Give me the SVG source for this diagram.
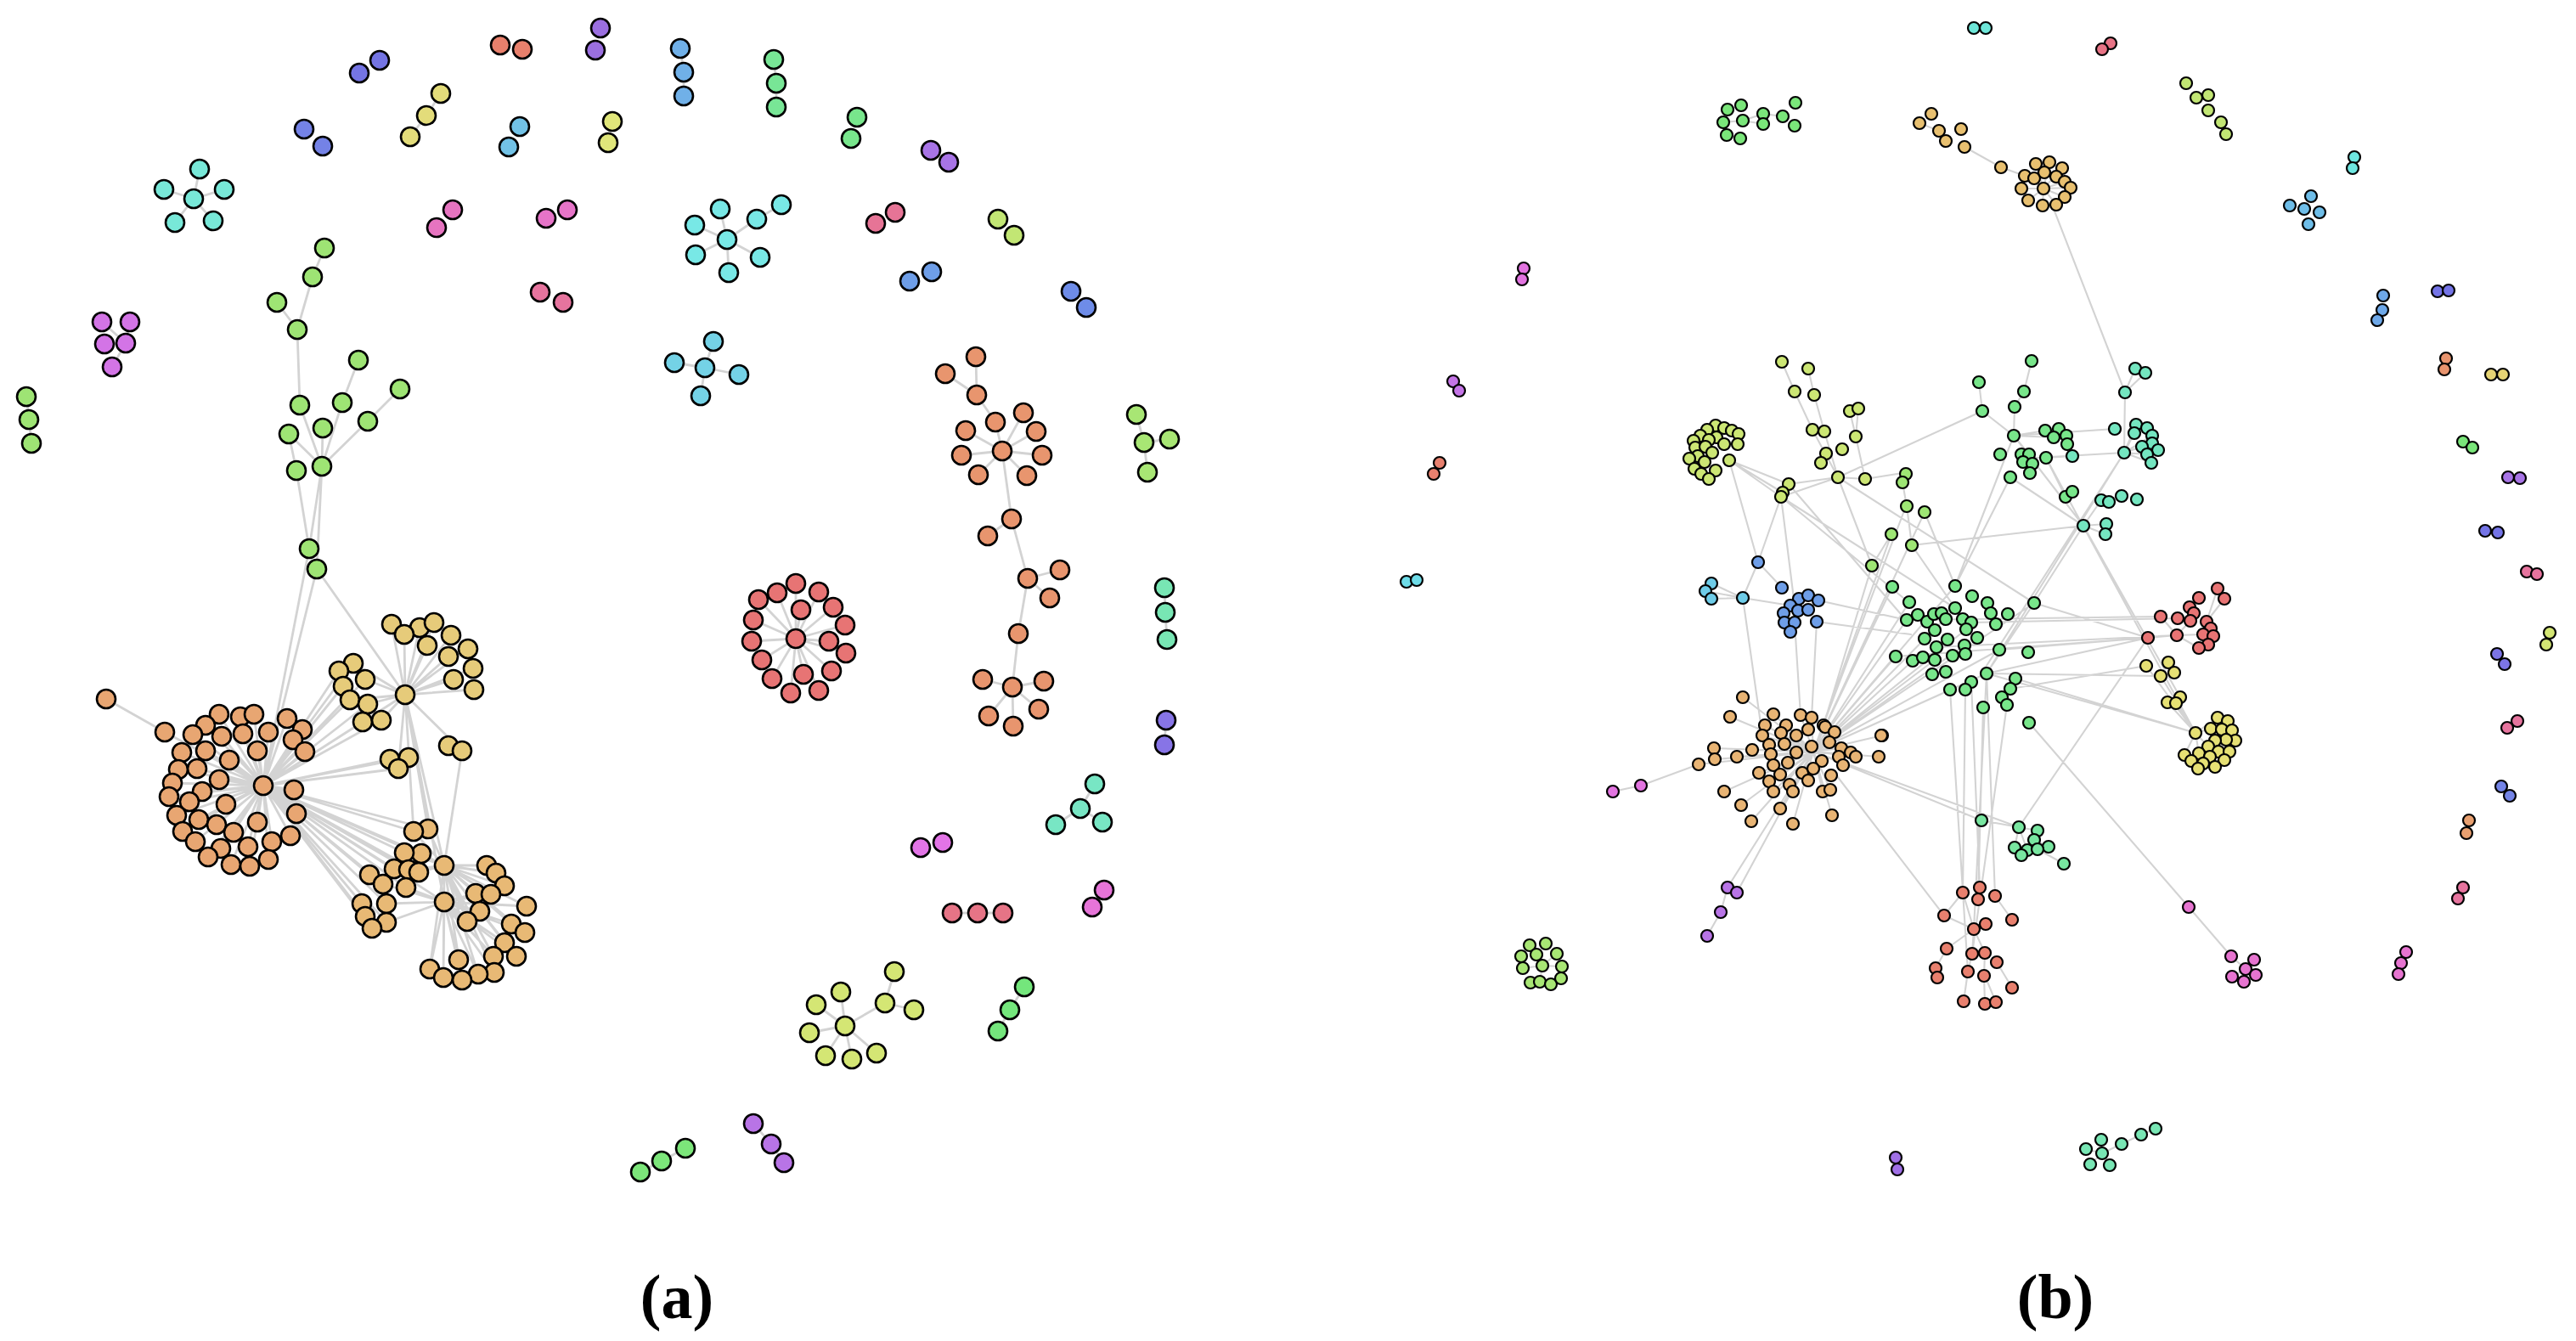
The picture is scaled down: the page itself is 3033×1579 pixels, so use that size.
<svg xmlns="http://www.w3.org/2000/svg" width="3033" height="1579" viewBox="0 0 3033 1579">
<style>
.na circle{r:11px;stroke:#000;stroke-width:2.6px}
.nb circle{r:7px;stroke:#000;stroke-width:2.2px}
.e{stroke:#d3d3d3;fill:none;stroke-linecap:round}
.ea{stroke-width:2.8px}
.eb{stroke-width:2.1px}
.lbl{font-family:"Liberation Serif",serif;font-size:74px;font-weight:bold;fill:#000;text-anchor:middle}
</style>
<rect width="3033" height="1579" fill="#fff"/>
<g id="connectors">
<path class="e ea" d="M228,234L235,199M228,234L193,223M228,234L264,223M228,234L206,262M228,234L251,260
M123,405L148,404M148,404L153,379M120,379L148,404M148,404L132,432
M382,292L368,326M368,326L350,388M326,356L350,388M350,388L353,477M422,424L403,474M471,458L433,496M379,549L353,477M379,549L403,474M379,549L380,504M379,549L433,496M379,549L340,511M340,511L349,554M349,554L364,646M379,549L364,646M379,549L373,670M364,646L310,925M373,670L310,925M373,670L477,818
M31,467L34,494L37,522M483,161L502,136L519,110M801,57L805,85L805,113M911,70L914,98L914,126
M856,282L848,246M856,282L818,265M856,282L891,258M856,282L819,300M856,282L895,303M856,282L858,321M891,258L920,241
M830,433L840,402M830,433L794,427M830,433L870,441M830,433L825,466
M1149,420L1150,465M1113,440L1150,465M1150,465L1172,497L1180,531M1180,531L1205,486M1180,531L1137,507M1180,531L1220,508M1180,531L1132,536M1180,531L1227,536M1180,531L1152,559M1180,531L1209,560M1180,531L1191,611M1191,611L1163,631M1191,611L1210,681M1210,681L1248,671M1210,681L1236,704M1210,681L1199,746L1192,809M1192,809L1157,800M1192,809L1229,802M1192,809L1164,843M1192,809L1193,855M1192,809L1223,835
M1347,521L1338,488M1347,521L1377,517M1347,521L1351,556M1371,692L1372,721L1374,753M1373,848L1371,877
M1272,952L1289,923M1272,952L1243,971M1272,952L1298,968
M937,752L937,687M937,752L915,698M937,752L964,697M937,752L893,706M937,752L943,718M937,752L981,715M937,752L887,730M937,752L995,736M937,752L885,755M937,752L976,755M937,752L996,769M937,752L897,777M937,752L979,790M937,752L946,794M937,752L909,799M937,752L931,816M937,752L964,813
M995,1208L990,1168M995,1208L961,1183M995,1208L953,1216M995,1208L972,1243M995,1208L1003,1247M995,1208L1032,1240M995,1208L1042,1181M1042,1181L1053,1144M1042,1181L1076,1189
M1121,1075L1181,1075M1206,1162L1189,1189L1175,1214M754,1380L779,1367L807,1352M887,1323L908,1347L923,1369
M125,823L194,862L310,925
M310,925L258,841M310,925L283,844M310,925L299,841M310,925L242,854M310,925L227,865M310,925L261,867M310,925L286,864M310,925L316,862M310,925L338,846M310,925L356,859M310,925L345,871M310,925L359,885M310,925L303,884M310,925L214,886M310,925L242,884M310,925L270,895M310,925L210,906M310,925L232,905M310,925L203,922M310,925L258,918M310,925L346,930M310,925L199,938M310,925L238,932M310,925L223,944M310,925L266,947M310,925L349,958M310,925L208,960M310,925L234,965M310,925L255,971M310,925L303,968M310,925L275,980M310,925L215,979M310,925L342,984M310,925L230,991M310,925L320,991M310,925L260,999M310,925L292,997M310,925L245,1009M310,925L316,1012M310,925L272,1018M310,925L294,1020
M310,925L416,781M310,925L399,790M310,925L430,800M310,925L404,808M310,925L412,824M310,925L433,829M310,925L427,850M310,925L449,848M310,925L459,894M310,925L481,892M310,925L469,905M310,925L487,979M310,925L504,976M310,925L476,1004M310,925L496,1005M310,925L464,1023M310,925L481,1024M310,925L493,1027M310,925L478,1045M310,925L435,1030M310,925L451,1041M310,925L426,1064M310,925L455,1064M310,925L430,1079M310,925L455,1086M310,925L438,1093M310,925L523,1019M310,925L523,1062M310,925L477,818
M477,818L461,735M477,818L476,747M477,818L494,739M477,818L511,733M477,818L531,748M477,818L503,760M477,818L551,764M477,818L528,773M477,818L557,787M477,818L534,800M477,818L558,812M477,818L416,781M477,818L430,800M477,818L412,824M477,818L433,829M477,818L449,848M477,818L544,884M477,818L523,1019M477,818L523,1062M477,818L487,979M477,818L504,976M477,818L469,905M544,884L523,1019
M523,1019L573,1019M523,1019L584,1028M523,1019L594,1043M523,1019L560,1052M523,1019L578,1053M523,1019L620,1067M523,1019L565,1073M523,1019L550,1085M523,1019L602,1088M523,1019L618,1098M523,1019L594,1110M523,1019L581,1126M523,1019L608,1126M523,1019L540,1130M523,1019L506,1141M523,1019L522,1151M523,1019L544,1154M523,1019L563,1147M523,1019L582,1145M523,1019L487,979M523,1019L504,976M523,1019L476,1004M523,1019L496,1005M523,1019L481,1024M523,1019L493,1027
M523,1062L560,1052M523,1062L578,1053M523,1062L620,1067M523,1062L565,1073M523,1062L550,1085M523,1062L602,1088M523,1062L618,1098M523,1062L594,1110M523,1062L581,1126M523,1062L608,1126M523,1062L540,1130M523,1062L506,1141M523,1062L522,1151M523,1062L544,1154M523,1062L563,1147M523,1062L582,1145M523,1062L455,1064M523,1062L455,1086M523,1062L478,1045M523,1062L451,1041"/>
<path class="e eb" d="M2029,144L2052,142L2076,134M2052,142L2076,146M2029,144L2033,159M2076,134L2099,137
M2260,145L2283,154L2291,166M2313,173L2356,197L2384,207M2406,222L2397,193M2406,222L2413,191M2406,222L2428,198M2406,222L2384,207M2406,222L2431,214M2406,222L2438,221M2406,222L2380,222M2406,222L2431,232M2406,222L2388,236M2406,222L2405,242M2406,222L2421,241M2418,246L2502,462
M2502,462L2514,434M2502,462L2526,439M2502,462L2501,533M2501,533L2515,500M2501,533L2513,510M2501,533L2522,526M2501,533L2528,535M2501,533L2533,545M2501,533L2534,513M2490,505L2371,513M2501,533L2380,540M2453,619L2474,589M2453,619L2479,629M2453,619L2480,617M2453,619L2371,513M2453,619L2367,562M2453,619L2251,642M2453,619L2567,821M2453,619L2395,710L2339,793M2501,533L2339,793M2501,533L2335,790M2474,589L2498,584
M2392,425L2383,461L2372,479L2371,513M2330,450L2334,484L2371,513M2371,513L2408,507M2371,513L2418,515M2371,513L2389,535M2371,513L2302,690M2367,562L2302,690M2334,484L2164,562M2409,539L2440,537M2432,585L2409,539M2409,539L2585,863M2367,562L2453,619
M2245,596L2240,568M2245,596L2251,642M2266,603L2302,690M2227,629L2204,666M2251,642L2302,716
M2098,426L2113,461L2134,506L2164,562M2129,434L2136,465L2148,508L2164,562M2188,481L2185,514L2196,564M2178,484L2185,514M2164,562L2196,564M2196,564L2240,557M2164,562L2106,570M2164,562L2097,585M2036,542L2097,585M2036,542L2106,570M2036,542L2099,580M2036,542L2070,662M2097,585L2070,662M2097,585L2112,705M2164,562L2204,666M2164,562L2395,710M2097,585L2247,709M2097,585L2302,716M2106,570L2244,730
M2070,662L2098,692M2052,704L2070,662M2052,704L2015,687M2052,704L2008,696M2052,704L2015,705M2052,704L2108,713M2052,704L2075,866M2113,733L2120,842M2139,732L2133,845M2141,707L2245,730M2139,732L2250,747M2204,666L2147,854
M2135,885L2052,821M2135,885L2037,844M2135,885L2088,841M2135,885L2078,854M2135,885L2103,854M2135,885L2120,842M2135,885L2133,845M2135,885L2147,854M2135,885L2160,862M2135,885L2097,863M2135,885L2075,866M2135,885L2083,877M2135,885L2168,881M2135,885L2185,891M2135,885L2216,866M2135,885L2212,891M2135,885L2018,881M2135,885L2019,894M2135,885L2045,891M2135,885L2063,883M2135,885L2000,900M2135,885L2071,910M2135,885L2083,920M2135,885L2030,932M2135,885L2088,932M2135,885L2111,932M2135,885L2146,932M2135,885L2155,930M2135,885L2050,948M2135,885L2096,952M2135,885L2062,967M2135,885L2111,970M2135,885L2157,960M2000,900L1932,925L1899,932M2135,885L2034,1045M2135,885L2045,1051M2034,1045L2026,1074L2010,1102
M2135,885L2228,691M2135,885L2248,709M2135,885L2245,730M2135,885L2232,773M2135,885L2252,778M2135,885L2278,777M2135,885L2302,716M2135,885L2315,741M2135,885L2339,793M2135,885L2302,690M2135,885L2395,710M2135,885L2354,765M2135,885L2313,760M2135,885L2244,596M2135,885L2227,629M2135,885L2266,603M2135,885L2333,966M2333,966L2377,974M2135,885L2377,974M2160,910L2289,1078
M1801,1113L1816,1137M1833,1123L1816,1137M1793,1140L1816,1137M1839,1138L1816,1137M1813,1156L1816,1137
M2339,793L2529,751M2339,793L2544,796M2339,793L2585,863M2373,799L2585,863M2245,730L2544,726M2232,773L2529,751M2280,762L2563,748M2395,710L2529,751M2321,733L2563,728M2354,765L2529,751M2367,811L2527,784M2529,751L2377,974
M2321,803L2331,1045M2314,812L2311,1051M2335,833L2329,1059M2339,793L2324,1094M2296,812L2317,1144M2339,793L2349,1055M2363,830L2322,1123
M2324,1094L2289,1078M2324,1094L2292,1117M2324,1094L2311,1051M2324,1094L2338,1088M2324,1094L2322,1123M2324,1094L2337,1122M2311,1051L2289,1078M2292,1117L2279,1140L2281,1151M2322,1123L2317,1144L2312,1179M2337,1122L2336,1149L2337,1182M2351,1133L2369,1163M2349,1055L2369,1083M2337,1149L2350,1180
M2389,851L2577,1068L2627,1126M2627,1126L2644,1141M2654,1130L2644,1141M2628,1150L2644,1141M2656,1148L2644,1141M2642,1156L2644,1141
M2377,974L2399,978M2377,974L2372,998M2377,974L2387,1001M2395,989L2412,997M2399,1000L2430,1017
M2563,748L2529,751M2563,748L2544,726M2563,748L2594,747M2563,748L2579,731M2563,748L2589,763M2598,732L2611,693M2598,732L2619,705M2589,704L2578,715
M2585,863L2552,827M2585,863L2562,828M2585,863L2544,796M2585,863L2527,784M2585,863L2611,845M2585,863L2603,858M2585,863L2600,879M2585,863L2572,889M2585,863L2589,887M2553,780L2544,796
M1711,449L1718,460M1695,545L1688,558M1656,685L1668,683M2456,1353L2475,1358M2475,1358L2498,1347L2521,1336L2538,1329M2475,1358L2461,1371M2475,1358L2484,1372M2474,1342L2475,1358"/>
</g>
<g id="panel-a-nodes" class="na">
<g id="a-orange" fill="#e8a672"><circle id="a1" cx="125" cy="823"/><circle id="a2" cx="194" cy="862"/><circle id="a3" cx="258" cy="841"/><circle id="a4" cx="283" cy="844"/><circle id="a5" cx="299" cy="841"/><circle id="a6" cx="242" cy="854"/><circle id="a7" cx="227" cy="865"/><circle id="a8" cx="261" cy="867"/><circle id="a9" cx="286" cy="864"/><circle id="a10" cx="316" cy="862"/><circle id="a11" cx="338" cy="846"/><circle id="a12" cx="356" cy="859"/><circle id="a13" cx="345" cy="871"/><circle id="a14" cx="359" cy="885"/><circle id="a15" cx="303" cy="884"/><circle id="a16" cx="214" cy="886"/><circle id="a17" cx="242" cy="884"/><circle id="a18" cx="270" cy="895"/><circle id="a19" cx="210" cy="906"/><circle id="a20" cx="232" cy="905"/><circle id="a21" cx="203" cy="922"/><circle id="a22" cx="258" cy="918"/><circle id="a23" cx="310" cy="925"/><circle id="a24" cx="346" cy="930"/><circle id="a25" cx="199" cy="938"/><circle id="a26" cx="238" cy="932"/><circle id="a27" cx="223" cy="944"/><circle id="a28" cx="266" cy="947"/><circle id="a29" cx="349" cy="958"/><circle id="a30" cx="208" cy="960"/><circle id="a31" cx="234" cy="965"/><circle id="a32" cx="255" cy="971"/><circle id="a33" cx="303" cy="968"/><circle id="a34" cx="275" cy="980"/><circle id="a35" cx="215" cy="979"/><circle id="a36" cx="342" cy="984"/><circle id="a37" cx="230" cy="991"/><circle id="a38" cx="320" cy="991"/><circle id="a39" cx="260" cy="999"/><circle id="a40" cx="292" cy="997"/><circle id="a41" cx="245" cy="1009"/><circle id="a42" cx="316" cy="1012"/><circle id="a43" cx="272" cy="1018"/><circle id="a44" cx="294" cy="1020"/></g>
<g id="a-yellow-orange" fill="#e6cb7a"><circle id="a45" cx="461" cy="735"/><circle id="a46" cx="494" cy="739"/><circle id="a47" cx="476" cy="747"/><circle id="a48" cx="511" cy="733"/><circle id="a49" cx="531" cy="748"/><circle id="a50" cx="503" cy="760"/><circle id="a51" cx="551" cy="764"/><circle id="a52" cx="528" cy="773"/><circle id="a53" cx="557" cy="787"/><circle id="a54" cx="534" cy="800"/><circle id="a55" cx="558" cy="812"/><circle id="a56" cx="477" cy="818"/><circle id="a57" cx="416" cy="781"/><circle id="a58" cx="399" cy="790"/><circle id="a59" cx="430" cy="800"/><circle id="a60" cx="404" cy="808"/><circle id="a61" cx="412" cy="824"/><circle id="a62" cx="433" cy="829"/><circle id="a63" cx="427" cy="850"/><circle id="a64" cx="449" cy="848"/><circle id="a65" cx="528" cy="878"/><circle id="a66" cx="544" cy="884"/><circle id="a67" cx="459" cy="894"/><circle id="a68" cx="481" cy="892"/><circle id="a69" cx="469" cy="905"/></g>
<g id="a-yellow-orange-2" fill="#e8b975"><circle id="a70" cx="504" cy="976"/><circle id="a71" cx="487" cy="979"/><circle id="a72" cx="496" cy="1005"/><circle id="a73" cx="476" cy="1004"/><circle id="a74" cx="464" cy="1023"/><circle id="a75" cx="481" cy="1024"/><circle id="a76" cx="493" cy="1027"/><circle id="a77" cx="478" cy="1045"/><circle id="a78" cx="435" cy="1030"/><circle id="a79" cx="451" cy="1041"/><circle id="a80" cx="426" cy="1064"/><circle id="a81" cx="455" cy="1064"/><circle id="a82" cx="430" cy="1079"/><circle id="a83" cx="455" cy="1086"/><circle id="a84" cx="438" cy="1093"/><circle id="a85" cx="523" cy="1019"/><circle id="a86" cx="523" cy="1062"/><circle id="a87" cx="573" cy="1019"/><circle id="a88" cx="584" cy="1028"/><circle id="a89" cx="594" cy="1043"/><circle id="a90" cx="560" cy="1052"/><circle id="a91" cx="578" cy="1053"/><circle id="a92" cx="620" cy="1067"/><circle id="a93" cx="565" cy="1073"/><circle id="a94" cx="550" cy="1085"/><circle id="a95" cx="602" cy="1088"/><circle id="a96" cx="618" cy="1098"/><circle id="a97" cx="594" cy="1110"/><circle id="a98" cx="581" cy="1126"/><circle id="a99" cx="608" cy="1126"/><circle id="a100" cx="540" cy="1130"/><circle id="a101" cx="506" cy="1141"/><circle id="a102" cx="582" cy="1145"/><circle id="a103" cx="563" cy="1147"/><circle id="a104" cx="522" cy="1151"/><circle id="a105" cx="544" cy="1154"/></g>
<g id="a-green-tree" fill="#9ee474"><circle id="a106" cx="382" cy="292"/><circle id="a107" cx="368" cy="326"/><circle id="a108" cx="326" cy="356"/><circle id="a109" cx="350" cy="388"/><circle id="a110" cx="422" cy="424"/><circle id="a111" cx="471" cy="458"/><circle id="a112" cx="353" cy="477"/><circle id="a113" cx="403" cy="474"/><circle id="a114" cx="340" cy="511"/><circle id="a115" cx="380" cy="504"/><circle id="a116" cx="433" cy="496"/><circle id="a117" cx="349" cy="554"/><circle id="a118" cx="379" cy="549"/><circle id="a119" cx="364" cy="646"/><circle id="a120" cx="373" cy="670"/><circle id="a121" cx="31" cy="467"/><circle id="a122" cx="34" cy="494"/><circle id="a123" cx="37" cy="522"/></g>
<g id="a-cyan-star" fill="#78e8d8"><circle id="a124" cx="228" cy="234"/><circle id="a125" cx="235" cy="199"/><circle id="a126" cx="193" cy="223"/><circle id="a127" cx="264" cy="223"/><circle id="a128" cx="206" cy="262"/><circle id="a129" cx="251" cy="260"/></g>
<g id="a-magenta" fill="#d374e6"><circle id="a130" cx="120" cy="379"/><circle id="a131" cx="153" cy="379"/><circle id="a132" cx="123" cy="405"/><circle id="a133" cx="148" cy="404"/><circle id="a134" cx="132" cy="432"/></g>
<g id="a-pairs"><circle id="a135" cx="589" cy="53" fill="#e8806c"/><circle id="a136" cx="615" cy="58" fill="#e8806c"/><circle id="a137" cx="707" cy="33" fill="#9b6fe0"/><circle id="a138" cx="701" cy="59" fill="#9b6fe0"/><circle id="a139" cx="447" cy="71" fill="#7474e3"/><circle id="a140" cx="423" cy="86" fill="#7474e3"/><circle id="a141" cx="358" cy="152" fill="#7482e6"/><circle id="a142" cx="380" cy="172" fill="#7482e6"/><circle id="a143" cx="519" cy="110" fill="#e3dc7a"/><circle id="a144" cx="502" cy="136" fill="#e3dc7a"/><circle id="a145" cx="483" cy="161" fill="#e3dc7a"/><circle id="a146" cx="612" cy="149" fill="#72c2e6"/><circle id="a147" cx="599" cy="173" fill="#72c2e6"/><circle id="a148" cx="721" cy="143" fill="#e0e67a"/><circle id="a149" cx="716" cy="168" fill="#e0e67a"/><circle id="a150" cx="533" cy="247" fill="#e674c0"/><circle id="a151" cx="514" cy="268" fill="#e674c0"/><circle id="a152" cx="668" cy="247" fill="#e674c8"/><circle id="a153" cx="643" cy="257" fill="#e674c8"/><circle id="a154" cx="636" cy="344" fill="#e6749e"/><circle id="a155" cx="663" cy="356" fill="#e6749e"/><circle id="a156" cx="801" cy="57" fill="#70b0e8"/><circle id="a157" cx="805" cy="85" fill="#70b0e8"/><circle id="a158" cx="805" cy="113" fill="#70b0e8"/><circle id="a159" cx="911" cy="70" fill="#78e696"/><circle id="a160" cx="914" cy="98" fill="#78e696"/><circle id="a161" cx="914" cy="126" fill="#78e696"/><circle id="a162" cx="1009" cy="138" fill="#78e68c"/><circle id="a163" cx="1002" cy="163" fill="#78e68c"/><circle id="a164" cx="1096" cy="177" fill="#a874e6"/><circle id="a165" cx="1117" cy="191" fill="#a874e6"/><circle id="a166" cx="1054" cy="250" fill="#e67496"/><circle id="a167" cx="1031" cy="263" fill="#e67496"/><circle id="a168" cx="1175" cy="258" fill="#c2e674"/><circle id="a169" cx="1194" cy="277" fill="#c2e674"/><circle id="a170" cx="1097" cy="320" fill="#6e9ee8"/><circle id="a171" cx="1071" cy="331" fill="#6e9ee8"/><circle id="a172" cx="1261" cy="343" fill="#6e8ce8"/><circle id="a173" cx="1279" cy="362" fill="#6e8ce8"/><circle id="a174" cx="1371" cy="692" fill="#78e6b4"/><circle id="a175" cx="1372" cy="721" fill="#78e6b4"/><circle id="a176" cx="1374" cy="753" fill="#78e6b4"/><circle id="a177" cx="1373" cy="848" fill="#8774e6"/><circle id="a178" cx="1371" cy="877" fill="#8774e6"/><circle id="a179" cx="1084" cy="998" fill="#e274e6"/><circle id="a180" cx="1110" cy="992" fill="#e274e6"/><circle id="a181" cx="1121" cy="1075" fill="#e67486"/><circle id="a182" cx="1151" cy="1075" fill="#e67486"/><circle id="a183" cx="1181" cy="1075" fill="#e67486"/><circle id="a184" cx="1300" cy="1048" fill="#e674d8"/><circle id="a185" cx="1286" cy="1068" fill="#e674d8"/><circle id="a186" cx="1206" cy="1162" fill="#74e67c"/><circle id="a187" cx="1189" cy="1189" fill="#74e67c"/><circle id="a188" cx="1175" cy="1214" fill="#74e67c"/><circle id="a189" cx="754" cy="1380" fill="#7ce67a"/><circle id="a190" cx="779" cy="1367" fill="#7ce67a"/><circle id="a191" cx="807" cy="1352" fill="#7ce67a"/><circle id="a192" cx="887" cy="1323" fill="#b874e6"/><circle id="a193" cx="908" cy="1347" fill="#b874e6"/><circle id="a194" cx="923" cy="1369" fill="#b874e6"/></g>
<g id="a-cyan-star-2" fill="#78e8e6"><circle id="a195" cx="856" cy="282"/><circle id="a196" cx="848" cy="246"/><circle id="a197" cx="818" cy="265"/><circle id="a198" cx="891" cy="258"/><circle id="a199" cx="920" cy="241"/><circle id="a200" cx="819" cy="300"/><circle id="a201" cx="895" cy="303"/><circle id="a202" cx="858" cy="321"/></g>
<g id="a-lightblue-star" fill="#74d2e6"><circle id="a203" cx="830" cy="433"/><circle id="a204" cx="840" cy="402"/><circle id="a205" cx="794" cy="427"/><circle id="a206" cx="870" cy="441"/><circle id="a207" cx="825" cy="466"/></g>
<g id="a-salmon-tree" fill="#e8956e"><circle id="a208" cx="1149" cy="420"/><circle id="a209" cx="1113" cy="440"/><circle id="a210" cx="1150" cy="465"/><circle id="a211" cx="1172" cy="497"/><circle id="a212" cx="1205" cy="486"/><circle id="a213" cx="1137" cy="507"/><circle id="a214" cx="1220" cy="508"/><circle id="a215" cx="1180" cy="531"/><circle id="a216" cx="1132" cy="536"/><circle id="a217" cx="1227" cy="536"/><circle id="a218" cx="1152" cy="559"/><circle id="a219" cx="1209" cy="560"/><circle id="a220" cx="1191" cy="611"/><circle id="a221" cx="1163" cy="631"/><circle id="a222" cx="1210" cy="681"/><circle id="a223" cx="1248" cy="671"/><circle id="a224" cx="1236" cy="704"/><circle id="a225" cx="1199" cy="746"/><circle id="a226" cx="1192" cy="809"/><circle id="a227" cx="1157" cy="800"/><circle id="a228" cx="1229" cy="802"/><circle id="a229" cx="1164" cy="843"/><circle id="a230" cx="1193" cy="855"/><circle id="a231" cx="1223" cy="835"/></g>
<g id="a-green-right" fill="#a8e674"><circle id="a232" cx="1338" cy="488"/><circle id="a233" cx="1347" cy="521"/><circle id="a234" cx="1377" cy="517"/><circle id="a235" cx="1351" cy="556"/></g>
<g id="a-teal" fill="#78e6c4"><circle id="a236" cx="1289" cy="923"/><circle id="a237" cx="1272" cy="952"/><circle id="a238" cx="1243" cy="971"/><circle id="a239" cx="1298" cy="968"/></g>
<g id="a-red-star" fill="#e77474"><circle id="a240" cx="937" cy="752"/><circle id="a241" cx="937" cy="687"/><circle id="a242" cx="915" cy="698"/><circle id="a243" cx="964" cy="697"/><circle id="a244" cx="893" cy="706"/><circle id="a245" cx="943" cy="718"/><circle id="a246" cx="981" cy="715"/><circle id="a247" cx="887" cy="730"/><circle id="a248" cx="995" cy="736"/><circle id="a249" cx="885" cy="755"/><circle id="a250" cx="976" cy="755"/><circle id="a251" cx="996" cy="769"/><circle id="a252" cx="897" cy="777"/><circle id="a253" cx="979" cy="790"/><circle id="a254" cx="946" cy="794"/><circle id="a255" cx="909" cy="799"/><circle id="a256" cx="931" cy="816"/><circle id="a257" cx="964" cy="813"/></g>
<g id="a-yg-star" fill="#d4e674"><circle id="a258" cx="995" cy="1208"/><circle id="a259" cx="990" cy="1168"/><circle id="a260" cx="961" cy="1183"/><circle id="a261" cx="953" cy="1216"/><circle id="a262" cx="972" cy="1243"/><circle id="a263" cx="1003" cy="1247"/><circle id="a264" cx="1032" cy="1240"/><circle id="a265" cx="1042" cy="1181"/><circle id="a266" cx="1053" cy="1144"/><circle id="a267" cx="1076" cy="1189"/></g>
</g>
<g id="panel-b-nodes" class="nb">
<g id="b-small"><circle id="b1" cx="2324" cy="33" fill="#6ee6d8"/><circle id="b2" cx="2338" cy="33" fill="#6ee6d8"/><circle id="b3" cx="1794" cy="316" fill="#e274e0"/><circle id="b4" cx="1792" cy="329" fill="#e274e0"/><circle id="b5" cx="1711" cy="449" fill="#c474e6"/><circle id="b6" cx="1718" cy="460" fill="#c474e6"/><circle id="b7" cx="1695" cy="545" fill="#e8806e"/><circle id="b8" cx="1688" cy="558" fill="#e8806e"/><circle id="b9" cx="1656" cy="685" fill="#6edce8"/><circle id="b10" cx="1668" cy="683" fill="#6edce8"/><circle id="b11" cx="2485" cy="51" fill="#e87486"/><circle id="b12" cx="2475" cy="58" fill="#e87486"/><circle id="b13" cx="2574" cy="98" fill="#c2e674"/><circle id="b14" cx="2586" cy="115" fill="#c2e674"/><circle id="b15" cx="2600" cy="112" fill="#c2e674"/><circle id="b16" cx="2600" cy="130" fill="#c2e674"/><circle id="b17" cx="2615" cy="144" fill="#c2e674"/><circle id="b18" cx="2621" cy="158" fill="#c2e674"/><circle id="b19" cx="2772" cy="185" fill="#6ee6e0"/><circle id="b20" cx="2770" cy="198" fill="#6ee6e0"/><circle id="b21" cx="2721" cy="231" fill="#6ebde8"/><circle id="b22" cx="2696" cy="242" fill="#6ebde8"/><circle id="b23" cx="2713" cy="246" fill="#6ebde8"/><circle id="b24" cx="2731" cy="250" fill="#6ebde8"/><circle id="b25" cx="2718" cy="264" fill="#6ebde8"/><circle id="b26" cx="2806" cy="348" fill="#6ea8e8"/><circle id="b27" cx="2805" cy="365" fill="#6ea8e8"/><circle id="b28" cx="2799" cy="377" fill="#6ea8e8"/><circle id="b29" cx="2870" cy="343" fill="#7474e6"/><circle id="b30" cx="2883" cy="342" fill="#7474e6"/><circle id="b31" cx="2880" cy="422" fill="#e8946e"/><circle id="b32" cx="2878" cy="435" fill="#e8946e"/><circle id="b33" cx="2933" cy="441" fill="#e6d474"/><circle id="b34" cx="2947" cy="441" fill="#e6d474"/><circle id="b35" cx="2900" cy="520" fill="#7ae67a"/><circle id="b36" cx="2911" cy="527" fill="#7ae67a"/><circle id="b37" cx="2953" cy="562" fill="#a874e6"/><circle id="b38" cx="2967" cy="563" fill="#a874e6"/><circle id="b39" cx="2926" cy="625" fill="#7474e6"/><circle id="b40" cx="2941" cy="627" fill="#7474e6"/><circle id="b41" cx="2975" cy="673" fill="#e6749e"/><circle id="b42" cx="2987" cy="676" fill="#e6749e"/><circle id="b43" cx="3002" cy="745" fill="#d4e674"/><circle id="b44" cx="2998" cy="759" fill="#d4e674"/><circle id="b45" cx="2940" cy="770" fill="#7c74e6"/><circle id="b46" cx="2949" cy="782" fill="#7c74e6"/><circle id="b47" cx="2964" cy="849" fill="#e6749e"/><circle id="b48" cx="2952" cy="857" fill="#e6749e"/><circle id="b49" cx="2945" cy="926" fill="#7484e6"/><circle id="b50" cx="2955" cy="937" fill="#7484e6"/><circle id="b51" cx="2907" cy="966" fill="#e8a070"/><circle id="b52" cx="2904" cy="981" fill="#e8a070"/><circle id="b53" cx="2900" cy="1045" fill="#e6749e"/><circle id="b54" cx="2894" cy="1058" fill="#e6749e"/><circle id="b55" cx="2833" cy="1121" fill="#e674d0"/><circle id="b56" cx="2827" cy="1134" fill="#e674d0"/><circle id="b57" cx="2824" cy="1147" fill="#e674d0"/><circle id="b58" cx="2232" cy="1363" fill="#a070e6"/><circle id="b59" cx="2234" cy="1377" fill="#a070e6"/><circle id="b60" cx="1899" cy="932" fill="#e274e0"/><circle id="b61" cx="1932" cy="925" fill="#e274e0"/></g>
<g id="b-mint" fill="#78e6b4"><circle id="b62" cx="2456" cy="1353"/><circle id="b63" cx="2474" cy="1342"/><circle id="b64" cx="2475" cy="1358"/><circle id="b65" cx="2461" cy="1371"/><circle id="b66" cx="2484" cy="1372"/><circle id="b67" cx="2498" cy="1347"/><circle id="b68" cx="2521" cy="1336"/><circle id="b69" cx="2538" cy="1329"/></g>
<g id="b-green-top" fill="#7ae67a"><circle id="b70" cx="2034" cy="129"/><circle id="b71" cx="2050" cy="124"/><circle id="b72" cx="2029" cy="144"/><circle id="b73" cx="2052" cy="142"/><circle id="b74" cx="2076" cy="134"/><circle id="b75" cx="2076" cy="146"/><circle id="b76" cx="2033" cy="159"/><circle id="b77" cx="2049" cy="163"/><circle id="b78" cx="2099" cy="137"/><circle id="b79" cx="2114" cy="121"/><circle id="b80" cx="2113" cy="148"/></g>
<g id="b-orange-top" fill="#e8c070"><circle id="b81" cx="2274" cy="134"/><circle id="b82" cx="2260" cy="145"/><circle id="b83" cx="2283" cy="154"/><circle id="b84" cx="2291" cy="166"/><circle id="b85" cx="2309" cy="152"/><circle id="b86" cx="2313" cy="173"/><circle id="b87" cx="2356" cy="197"/><circle id="b88" cx="2397" cy="193"/><circle id="b89" cx="2413" cy="191"/><circle id="b90" cx="2428" cy="198"/><circle id="b91" cx="2384" cy="207"/><circle id="b92" cx="2395" cy="210"/><circle id="b93" cx="2407" cy="203"/><circle id="b94" cx="2421" cy="208"/><circle id="b95" cx="2431" cy="214"/><circle id="b96" cx="2438" cy="221"/><circle id="b97" cx="2380" cy="222"/><circle id="b98" cx="2406" cy="222"/><circle id="b99" cx="2431" cy="232"/><circle id="b100" cx="2388" cy="236"/><circle id="b101" cx="2405" cy="242"/><circle id="b102" cx="2421" cy="241"/></g>
<g id="b-yg" fill="#cce674"><circle id="b103" cx="2020" cy="501"/><circle id="b104" cx="2010" cy="506"/><circle id="b105" cx="2030" cy="504"/><circle id="b106" cx="2039" cy="507"/><circle id="b107" cx="2047" cy="511"/><circle id="b108" cx="2002" cy="513"/><circle id="b109" cx="1994" cy="519"/><circle id="b110" cx="2021" cy="515"/><circle id="b111" cx="2012" cy="518"/><circle id="b112" cx="2030" cy="523"/><circle id="b113" cx="2046" cy="523"/><circle id="b114" cx="1996" cy="527"/><circle id="b115" cx="2008" cy="526"/><circle id="b116" cx="2016" cy="533"/><circle id="b117" cx="1999" cy="537"/><circle id="b118" cx="1989" cy="540"/><circle id="b119" cx="2007" cy="544"/><circle id="b120" cx="2036" cy="542"/><circle id="b121" cx="1995" cy="552"/><circle id="b122" cx="2020" cy="554"/><circle id="b123" cx="2003" cy="558"/><circle id="b124" cx="2012" cy="564"/><circle id="b125" cx="2098" cy="426"/><circle id="b126" cx="2129" cy="434"/><circle id="b127" cx="2113" cy="461"/><circle id="b128" cx="2136" cy="465"/><circle id="b129" cx="2178" cy="484"/><circle id="b130" cx="2188" cy="481"/><circle id="b131" cx="2134" cy="506"/><circle id="b132" cx="2148" cy="508"/><circle id="b133" cx="2185" cy="514"/><circle id="b134" cx="2169" cy="529"/><circle id="b135" cx="2150" cy="534"/><circle id="b136" cx="2144" cy="545"/><circle id="b137" cx="2164" cy="562"/><circle id="b138" cx="2196" cy="564"/><circle id="b139" cx="2106" cy="570"/><circle id="b140" cx="2099" cy="580"/><circle id="b141" cx="2097" cy="585"/></g>
<g id="b-blue" fill="#6e9ee8"><circle id="b142" cx="2070" cy="662"/><circle id="b143" cx="2098" cy="692"/><circle id="b144" cx="2118" cy="705"/><circle id="b145" cx="2129" cy="701"/><circle id="b146" cx="2141" cy="707"/><circle id="b147" cx="2108" cy="713"/><circle id="b148" cx="2117" cy="719"/><circle id="b149" cx="2129" cy="718"/><circle id="b150" cx="2100" cy="722"/><circle id="b151" cx="2101" cy="733"/><circle id="b152" cx="2113" cy="733"/><circle id="b153" cx="2139" cy="732"/><circle id="b154" cx="2108" cy="744"/></g>
<g id="b-cyan" fill="#6ecce8"><circle id="b155" cx="2052" cy="704"/><circle id="b156" cx="2015" cy="687"/><circle id="b157" cx="2008" cy="696"/><circle id="b158" cx="2015" cy="705"/></g>
<g id="b-orange" fill="#e8b474"><circle id="b159" cx="2052" cy="821"/><circle id="b160" cx="2037" cy="844"/><circle id="b161" cx="2088" cy="841"/><circle id="b162" cx="2120" cy="842"/><circle id="b163" cx="2133" cy="845"/><circle id="b164" cx="2078" cy="854"/><circle id="b165" cx="2103" cy="854"/><circle id="b166" cx="2147" cy="854"/><circle id="b167" cx="2129" cy="859"/><circle id="b168" cx="2149" cy="856"/><circle id="b169" cx="2160" cy="862"/><circle id="b170" cx="2097" cy="863"/><circle id="b171" cx="2115" cy="866"/><circle id="b172" cx="2075" cy="866"/><circle id="b173" cx="2216" cy="866"/><circle id="b174" cx="2083" cy="877"/><circle id="b175" cx="2101" cy="876"/><circle id="b176" cx="2133" cy="879"/><circle id="b177" cx="2154" cy="874"/><circle id="b178" cx="2168" cy="881"/><circle id="b179" cx="2179" cy="886"/><circle id="b180" cx="2185" cy="891"/><circle id="b181" cx="2212" cy="891"/><circle id="b182" cx="2018" cy="881"/><circle id="b183" cx="2063" cy="883"/><circle id="b184" cx="2019" cy="894"/><circle id="b185" cx="2045" cy="891"/><circle id="b186" cx="2085" cy="888"/><circle id="b187" cx="2115" cy="886"/><circle id="b188" cx="2145" cy="896"/><circle id="b189" cx="2165" cy="891"/><circle id="b190" cx="2000" cy="900"/><circle id="b191" cx="2088" cy="901"/><circle id="b192" cx="2105" cy="898"/><circle id="b193" cx="2170" cy="901"/><circle id="b194" cx="2071" cy="910"/><circle id="b195" cx="2096" cy="912"/><circle id="b196" cx="2122" cy="910"/><circle id="b197" cx="2135" cy="905"/><circle id="b198" cx="2156" cy="913"/><circle id="b199" cx="2083" cy="920"/><circle id="b200" cx="2107" cy="924"/><circle id="b201" cx="2129" cy="919"/><circle id="b202" cx="2030" cy="932"/><circle id="b203" cx="2088" cy="932"/><circle id="b204" cx="2111" cy="932"/><circle id="b205" cx="2146" cy="932"/><circle id="b206" cx="2155" cy="930"/><circle id="b207" cx="2050" cy="948"/><circle id="b208" cx="2096" cy="952"/><circle id="b209" cx="2062" cy="967"/><circle id="b210" cx="2111" cy="970"/><circle id="b211" cx="2157" cy="960"/><circle id="b212" cx="2215" cy="866"/></g>
<g id="b-purple" fill="#b874e6"><circle id="b213" cx="2034" cy="1045"/><circle id="b214" cx="2045" cy="1051"/><circle id="b215" cx="2026" cy="1074"/><circle id="b216" cx="2010" cy="1102"/></g>
<g id="b-green-ring" fill="#a8e674"><circle id="b217" cx="1801" cy="1113"/><circle id="b218" cx="1820" cy="1111"/><circle id="b219" cx="1791" cy="1126"/><circle id="b220" cx="1809" cy="1124"/><circle id="b221" cx="1833" cy="1123"/><circle id="b222" cx="1793" cy="1140"/><circle id="b223" cx="1816" cy="1137"/><circle id="b224" cx="1839" cy="1138"/><circle id="b225" cx="1802" cy="1157"/><circle id="b226" cx="1813" cy="1156"/><circle id="b227" cx="1826" cy="1159"/><circle id="b228" cx="1838" cy="1152"/></g>
<g id="b-red-bottom" fill="#e8806e"><circle id="b229" cx="2311" cy="1051"/><circle id="b230" cx="2331" cy="1045"/><circle id="b231" cx="2329" cy="1059"/><circle id="b232" cx="2349" cy="1055"/><circle id="b233" cx="2289" cy="1078"/><circle id="b234" cx="2324" cy="1094"/><circle id="b235" cx="2338" cy="1088"/><circle id="b236" cx="2369" cy="1083"/><circle id="b237" cx="2292" cy="1117"/><circle id="b238" cx="2322" cy="1123"/><circle id="b239" cx="2337" cy="1122"/><circle id="b240" cx="2351" cy="1133"/><circle id="b241" cx="2279" cy="1140"/><circle id="b242" cx="2281" cy="1151"/><circle id="b243" cx="2317" cy="1144"/><circle id="b244" cx="2336" cy="1149"/><circle id="b245" cx="2369" cy="1163"/><circle id="b246" cx="2312" cy="1179"/><circle id="b247" cx="2337" cy="1182"/><circle id="b248" cx="2350" cy="1180"/></g>
<g id="b-green-low" fill="#78e6a0"><circle id="b249" cx="2333" cy="966"/><circle id="b250" cx="2377" cy="974"/><circle id="b251" cx="2399" cy="978"/><circle id="b252" cx="2395" cy="989"/><circle id="b253" cx="2412" cy="997"/><circle id="b254" cx="2372" cy="998"/><circle id="b255" cx="2387" cy="1001"/><circle id="b256" cx="2399" cy="1000"/><circle id="b257" cx="2380" cy="1007"/><circle id="b258" cx="2430" cy="1017"/></g>
<g id="b-pink" fill="#e674d0"><circle id="b259" cx="2577" cy="1068"/><circle id="b260" cx="2627" cy="1126"/><circle id="b261" cx="2654" cy="1130"/><circle id="b262" cx="2644" cy="1141"/><circle id="b263" cx="2656" cy="1148"/><circle id="b264" cx="2628" cy="1150"/><circle id="b265" cx="2642" cy="1156"/></g>
<g id="b-red" fill="#e87474"><circle id="b266" cx="2611" cy="693"/><circle id="b267" cx="2619" cy="705"/><circle id="b268" cx="2589" cy="704"/><circle id="b269" cx="2578" cy="715"/><circle id="b270" cx="2583" cy="722"/><circle id="b271" cx="2544" cy="726"/><circle id="b272" cx="2564" cy="728"/><circle id="b273" cx="2579" cy="731"/><circle id="b274" cx="2598" cy="732"/><circle id="b275" cx="2603" cy="740"/><circle id="b276" cx="2529" cy="751"/><circle id="b277" cx="2563" cy="748"/><circle id="b278" cx="2594" cy="747"/><circle id="b279" cx="2606" cy="749"/><circle id="b280" cx="2600" cy="759"/><circle id="b281" cx="2589" cy="763"/></g>
<g id="b-yellow" fill="#e6e074"><circle id="b282" cx="2527" cy="784"/><circle id="b283" cx="2553" cy="780"/><circle id="b284" cx="2560" cy="792"/><circle id="b285" cx="2544" cy="796"/><circle id="b286" cx="2567" cy="821"/><circle id="b287" cx="2552" cy="827"/><circle id="b288" cx="2562" cy="828"/><circle id="b289" cx="2611" cy="845"/><circle id="b290" cx="2623" cy="849"/><circle id="b291" cx="2603" cy="858"/><circle id="b292" cx="2616" cy="859"/><circle id="b293" cx="2628" cy="860"/><circle id="b294" cx="2585" cy="863"/><circle id="b295" cx="2632" cy="872"/><circle id="b296" cx="2621" cy="871"/><circle id="b297" cx="2608" cy="872"/><circle id="b298" cx="2600" cy="879"/><circle id="b299" cx="2612" cy="885"/><circle id="b300" cx="2625" cy="885"/><circle id="b301" cx="2589" cy="887"/><circle id="b302" cx="2572" cy="889"/><circle id="b303" cx="2602" cy="891"/><circle id="b304" cx="2619" cy="895"/><circle id="b305" cx="2580" cy="896"/><circle id="b306" cx="2594" cy="899"/><circle id="b307" cx="2608" cy="903"/><circle id="b308" cx="2588" cy="905"/></g>
<g id="b-teal" fill="#74e6c0"><circle id="b309" cx="2514" cy="434"/><circle id="b310" cx="2526" cy="439"/><circle id="b311" cx="2502" cy="462"/><circle id="b312" cx="2490" cy="505"/><circle id="b313" cx="2515" cy="500"/><circle id="b314" cx="2528" cy="504"/><circle id="b315" cx="2513" cy="510"/><circle id="b316" cx="2534" cy="513"/><circle id="b317" cx="2534" cy="522"/><circle id="b318" cx="2522" cy="526"/><circle id="b319" cx="2541" cy="530"/><circle id="b320" cx="2501" cy="533"/><circle id="b321" cx="2528" cy="535"/><circle id="b322" cx="2533" cy="545"/><circle id="b323" cx="2440" cy="537"/><circle id="b324" cx="2474" cy="589"/><circle id="b325" cx="2483" cy="591"/><circle id="b326" cx="2498" cy="584"/><circle id="b327" cx="2516" cy="588"/><circle id="b328" cx="2453" cy="619"/><circle id="b329" cx="2480" cy="617"/><circle id="b330" cx="2479" cy="629"/></g>
<g id="b-green-lt" fill="#9ee674"><circle id="b331" cx="2244" cy="558"/><circle id="b332" cx="2240" cy="568"/><circle id="b333" cx="2245" cy="596"/><circle id="b334" cx="2266" cy="603"/><circle id="b335" cx="2227" cy="629"/><circle id="b336" cx="2251" cy="642"/><circle id="b337" cx="2204" cy="666"/></g>
<g id="b-green" fill="#78e68a"><circle id="b338" cx="2392" cy="425"/><circle id="b339" cx="2383" cy="461"/><circle id="b340" cx="2372" cy="479"/><circle id="b341" cx="2330" cy="450"/><circle id="b342" cx="2334" cy="484"/><circle id="b343" cx="2371" cy="513"/><circle id="b344" cx="2408" cy="507"/><circle id="b345" cx="2424" cy="505"/><circle id="b346" cx="2418" cy="515"/><circle id="b347" cx="2433" cy="513"/><circle id="b348" cx="2434" cy="523"/><circle id="b349" cx="2355" cy="535"/><circle id="b350" cx="2380" cy="535"/><circle id="b351" cx="2389" cy="535"/><circle id="b352" cx="2382" cy="544"/><circle id="b353" cx="2393" cy="546"/><circle id="b354" cx="2390" cy="557"/><circle id="b355" cx="2409" cy="539"/><circle id="b356" cx="2367" cy="562"/><circle id="b357" cx="2432" cy="585"/><circle id="b358" cx="2440" cy="579"/><circle id="b359" cx="2228" cy="691"/><circle id="b360" cx="2248" cy="709"/><circle id="b361" cx="2302" cy="690"/><circle id="b362" cx="2322" cy="702"/><circle id="b363" cx="2340" cy="710"/><circle id="b364" cx="2395" cy="710"/><circle id="b365" cx="2258" cy="724"/><circle id="b366" cx="2245" cy="730"/><circle id="b367" cx="2269" cy="732"/><circle id="b368" cx="2277" cy="723"/><circle id="b369" cx="2286" cy="722"/><circle id="b370" cx="2291" cy="729"/><circle id="b371" cx="2302" cy="716"/><circle id="b372" cx="2311" cy="729"/><circle id="b373" cx="2321" cy="733"/><circle id="b374" cx="2344" cy="722"/><circle id="b375" cx="2364" cy="723"/><circle id="b376" cx="2350" cy="735"/><circle id="b377" cx="2315" cy="741"/><circle id="b378" cx="2278" cy="742"/><circle id="b379" cx="2266" cy="752"/><circle id="b380" cx="2293" cy="753"/><circle id="b381" cx="2328" cy="751"/><circle id="b382" cx="2280" cy="762"/><circle id="b383" cx="2313" cy="760"/><circle id="b384" cx="2232" cy="773"/><circle id="b385" cx="2252" cy="778"/><circle id="b386" cx="2264" cy="774"/><circle id="b387" cx="2278" cy="777"/><circle id="b388" cx="2299" cy="772"/><circle id="b389" cx="2314" cy="770"/><circle id="b390" cx="2354" cy="765"/><circle id="b391" cx="2388" cy="768"/><circle id="b392" cx="2275" cy="794"/><circle id="b393" cx="2291" cy="791"/><circle id="b394" cx="2339" cy="793"/><circle id="b395" cx="2373" cy="799"/><circle id="b396" cx="2367" cy="811"/><circle id="b397" cx="2321" cy="803"/><circle id="b398" cx="2314" cy="812"/><circle id="b399" cx="2296" cy="812"/><circle id="b400" cx="2357" cy="821"/><circle id="b401" cx="2363" cy="830"/><circle id="b402" cx="2335" cy="833"/><circle id="b403" cx="2389" cy="851"/></g>
</g>
<g id="labels">
<text class="lbl" x="797" y="1552">(a)</text>
<text class="lbl" x="2420" y="1552">(b)</text>
</g>
</svg>
